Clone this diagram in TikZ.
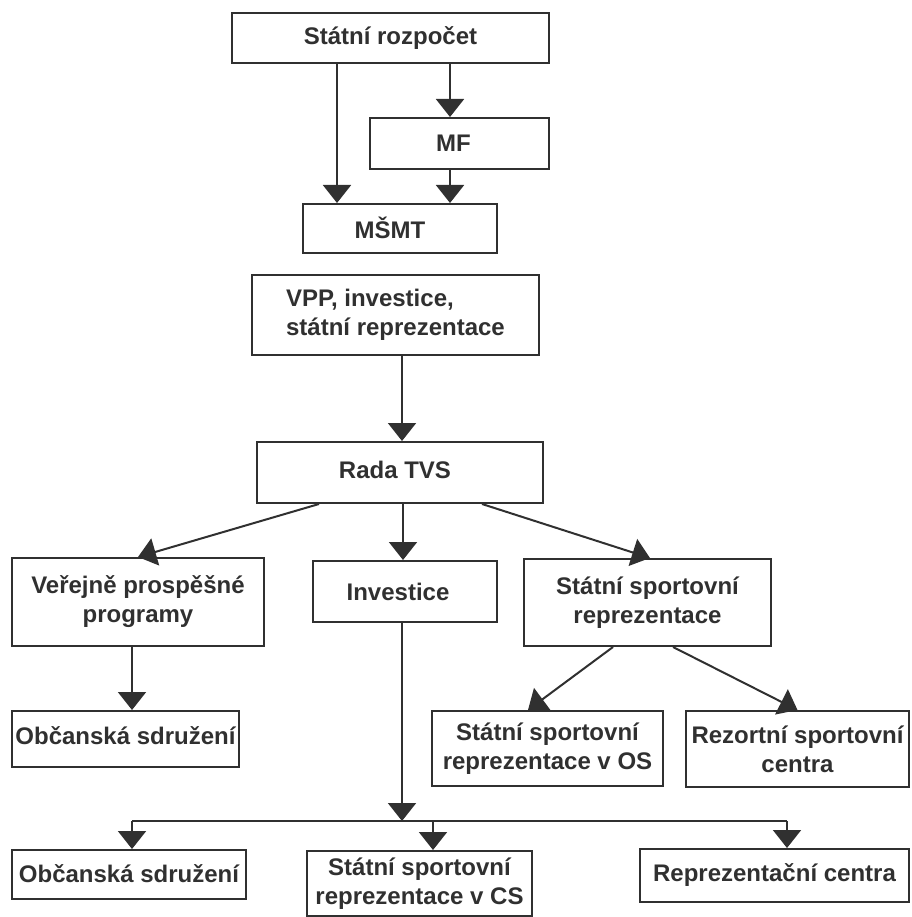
\documentclass[tikz,border=0pt]{standalone}
\usepackage{fontspec}
\setmainfont{Liberation Sans}
\usetikzlibrary{arrows.meta}
\definecolor{ink}{HTML}{303030}
\begin{document}
\begin{tikzpicture}[x=1pt,y=-1pt,
  font=\fontsize{24}{29}\selectfont\bfseries,
  box/.style={draw=ink,text=ink,line width=2pt,rectangle,inner sep=0pt,align=center},
  arr/.style={draw=ink,line width=2pt,-{Triangle[length=18pt,width=28pt]}},
  conn/.style={draw=ink,line width=2pt}]
\useasboundingbox (0,0) rectangle (911,917);
% boxes
\node[box,minimum width=317pt,minimum height=50pt] (sr) at (390.5,38) {\raisebox{4pt}{Státní rozpočet}};
\node[box,minimum width=179pt,minimum height=51pt] (mf) at (459.5,143.5) {\hspace*{-12pt}MF};
\node[box,minimum width=194pt,minimum height=49pt] (msmt) at (400,228.5) {\hspace*{-20pt}\raisebox{2pt}{MŠMT}};
\node[box,minimum width=287pt,minimum height=80pt,align=left] (vpp) at (395.5,315) {VPP, investice,\\státní reprezentace};
\node[box,minimum width=286pt,minimum height=61pt] (rada) at (400,472.5) {\hspace*{-10pt}\raisebox{5pt}{Rada TVS}};
\node[box,minimum width=252pt,minimum height=88pt] (vpp2) at (138,602) {\raisebox{5pt}{\parbox{240pt}{\centering Veřejně prospěšné\\programy}}};
\node[box,minimum width=184pt,minimum height=61pt] (inv) at (405,591.5) {\hspace*{-14pt}Investice};
\node[box,minimum width=247pt,minimum height=87pt] (ssr) at (647.5,602.5) {\raisebox{5pt}{\parbox{240pt}{\centering Státní sportovní\\reprezentace}}};
\node[box,minimum width=227pt,minimum height=56pt] (ob1) at (125.5,739) {\raisebox{6pt}{Občanská sdružení}};
\node[box,minimum width=231pt,minimum height=75pt] (os) at (547.5,748.5) {Státní sportovní\\reprezentace v OS};
\node[box,minimum width=223pt,minimum height=76pt] (rez) at (797.5,749) {Rezortní sportovní\\centra};
\node[box,minimum width=234pt,minimum height=49pt] (ob2) at (129,874.5) {\raisebox{2pt}{Občanská sdružení}};
\node[box,minimum width=225pt,minimum height=65pt] (cs) at (419.5,883.5) {\raisebox{2pt}{\parbox{220pt}{\centering Státní sportovní\\reprezentace v CS}}};
\node[box,minimum width=269pt,minimum height=53pt] (rc) at (774.5,875.5) {\raisebox{3pt}{Reprezentační centra}};
% bus coordinates
\coordinate (bus) at (402,821);
\coordinate (busL) at (132,821);
\coordinate (busM) at (433,821);
\coordinate (busR) at (787,821);
% connectors
\draw[arr] ([xshift=-53.5pt]sr.south) -- ([xshift=-63pt]msmt.north);
\draw[arr] ([xshift=59.5pt]sr.south) -- ([xshift=-9.5pt]mf.north);
\draw[arr] ([xshift=-9.5pt]mf.south) -- ([xshift=50pt]msmt.north);
\draw[arr] ([xshift=6.5pt]vpp.south) -- ([xshift=2pt]rada.north);
\draw[arr] ([xshift=-81pt]rada.south) -- (vpp2.north);
\draw[arr] ([xshift=3pt]rada.south) -- ([xshift=-2pt]inv.north);
\draw[arr] ([xshift=82pt]rada.south) -- ([xshift=2.5pt]ssr.north);
\draw[arr] ([xshift=-6pt]vpp2.south) -- ([xshift=6.5pt]ob1.north);
\draw[arr] ([xshift=-34.5pt]ssr.south) -- ([xshift=-19.5pt]os.north);
\draw[arr] ([xshift=25.5pt]ssr.south) -- (rez.north);
\draw[arr] ([xshift=-3pt]inv.south) -- (bus);
\draw[conn] (busL) -- (busR);
\draw[arr] (busL) -- ([xshift=3pt]ob2.north);
\draw[arr] (busM) -- ([xshift=13.5pt]cs.north);
\draw[arr] (busR) -- ([xshift=12.5pt]rc.north);
\end{tikzpicture}
\end{document}
